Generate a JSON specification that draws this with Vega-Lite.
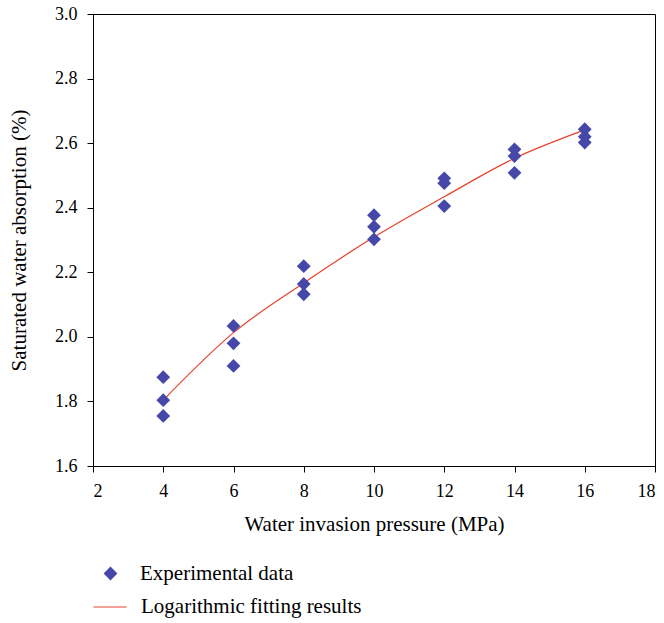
{
  "$schema": "https://vega.github.io/schema/vega-lite/v6.json",
  "width": 562,
  "height": 452,
  "autosize": {"type": "none"},
  "padding": {"left": 93, "top": 14, "right": 9, "bottom": 157},
  "config": {
    "font": "Liberation Serif",
    "view": {"stroke": "black", "strokeWidth": 1},
    "axis": {
      "grid": false,
      "domainColor": "black",
      "tickColor": "black",
      "labelColor": "black",
      "titleColor": "black",
      "labelFont": "Liberation Serif",
      "titleFont": "Liberation Serif",
      "labelFontSize": 18,
      "titleFontSize": 21,
      "titleFontWeight": "normal",
      "tickSize": 6,
      "labelPadding": 10
    },
    "legend": {
      "labelFont": "Liberation Serif",
      "labelFontSize": 21,
      "labelColor": "black",
      "labelLimit": 0,
      "padding": 0
    }
  },
  "datasets": {
    "points": [
      {"pressure": 4, "absorption": 1.875},
      {"pressure": 4, "absorption": 1.804},
      {"pressure": 4, "absorption": 1.755},
      {"pressure": 6, "absorption": 2.034},
      {"pressure": 6, "absorption": 1.98},
      {"pressure": 6, "absorption": 1.91},
      {"pressure": 8, "absorption": 2.219},
      {"pressure": 8, "absorption": 2.164},
      {"pressure": 8, "absorption": 2.132},
      {"pressure": 10, "absorption": 2.377},
      {"pressure": 10, "absorption": 2.341},
      {"pressure": 10, "absorption": 2.302},
      {"pressure": 12, "absorption": 2.491},
      {"pressure": 12, "absorption": 2.476},
      {"pressure": 12, "absorption": 2.405},
      {"pressure": 14, "absorption": 2.581},
      {"pressure": 14, "absorption": 2.56},
      {"pressure": 14, "absorption": 2.508},
      {"pressure": 16, "absorption": 2.643},
      {"pressure": 16, "absorption": 2.62},
      {"pressure": 16, "absorption": 2.602}
    ],
    "fit": [
      {"pressure": 4, "absorption": 1.804},
      {"pressure": 6, "absorption": 2.013},
      {"pressure": 8, "absorption": 2.167},
      {"pressure": 10, "absorption": 2.309},
      {"pressure": 12, "absorption": 2.434},
      {"pressure": 14, "absorption": 2.553},
      {"pressure": 16, "absorption": 2.641}
    ]
  },
  "layer": [
    {
      "data": {"name": "fit"},
      "mark": {"type": "line", "strokeWidth": 1.2, "interpolate": "monotone"},
      "encoding": {
        "x": {
          "field": "pressure",
          "type": "quantitative",
          "scale": {"domain": [2, 18], "nice": false},
          "axis": {"values": [2, 4, 6, 8, 10, 12, 14, 16, 18], "title": "Water invasion pressure (MPa)", "titlePadding": 13}
        },
        "y": {
          "field": "absorption",
          "type": "quantitative",
          "scale": {"domain": [1.6, 3.0], "nice": false, "zero": false},
          "axis": {"values": [1.6, 1.8, 2.0, 2.2, 2.4, 2.6, 2.8, 3.0], "format": ".1f", "title": "Saturated water absorption (%)", "titlePadding": 25}
        },
        "color": {
          "datum": "Logarithmic fitting results",
          "type": "nominal",
          "scale": {"range": ["#e8412c"]},
          "legend": {
            "title": null,
            "orient": "none",
            "legendX": 0,
            "legendY": 576,
            "symbolType": "stroke",
            "symbolSize": 1089,
            "symbolStrokeWidth": 1,
            "labelOffset": 14
          }
        }
      }
    },
    {
      "data": {"name": "points"},
      "mark": {"type": "point", "filled": true, "color": "#4548a8", "opacity": 1, "size": 190},
      "encoding": {
        "x": {"field": "pressure", "type": "quantitative"},
        "y": {"field": "absorption", "type": "quantitative"},
        "shape": {
          "datum": "Experimental data",
          "type": "nominal",
          "scale": {"range": ["diamond"]},
          "legend": {
            "title": null,
            "orient": "none",
            "legendX": 7,
            "legendY": 549,
            "symbolSize": 190,
            "symbolFillColor": "#4548a8",
            "symbolStrokeColor": "#4548a8",
            "symbolOpacity": 1,
            "labelOffset": 19
          }
        }
      }
    }
  ]
}
